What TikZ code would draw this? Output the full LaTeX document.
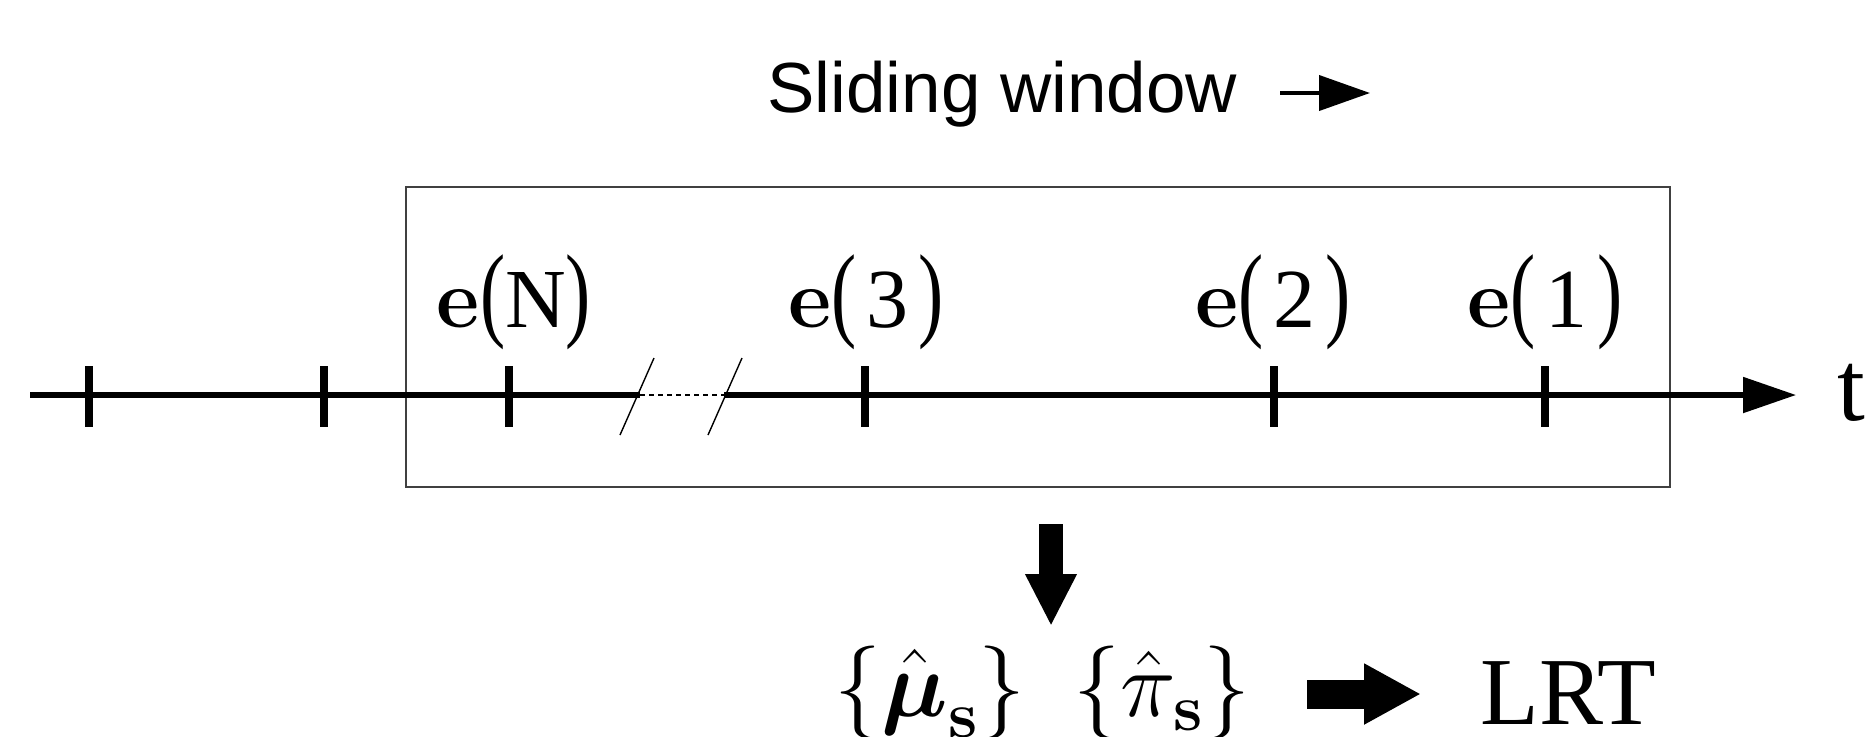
\RequirePackage{fix-cm}
\documentclass[tikz,border=0pt]{standalone}
\usepackage[no-math]{fontspec}
\setmainfont{Liberation Serif}
\newfontfamily\sansf{Liberation Sans}
\usepackage{amsmath}
\usepackage{graphicx}
\usetikzlibrary{arrows.meta}
\newcommand\myLP{\scalebox{0.9}[1.25]{(}}
\newcommand\myRP{\scalebox{0.9}[1.25]{)}}
\newcommand\myDig[1]{\myLP\hspace{0.12em}#1\hspace{0.12em}\myRP}
\tikzset{
  axisline/.style={line width=2.6pt},
  tickline/.style={line width=4pt},
  windowbox/.style={draw=black!75, line width=0.8pt},
  breakline/.style={line width=0.7pt},
  gapline/.style={line width=0.8pt, dash pattern=on 2.5pt off 2pt},
  elabel/.style={anchor=base, inner sep=0pt, font=\fontsize{42pt}{50pt}\selectfont},
  bigtext/.style={inner sep=0pt, font=\fontsize{48pt}{58pt}\selectfont},
  mathtext/.style={anchor=base, inner sep=0pt, font=\fontsize{47pt}{56pt}\selectfont},
  downarrow/.style={line width=12pt, -{Triangle[length=26pt,width=24pt]}},
  rightarrow/.style={line width=14.5pt, -{Triangle[length=28.5pt,width=28.5pt]}},
  smallarrow/.style={line width=2pt, -{Triangle[length=25.5pt,width=17.5pt]}},
}
\begin{document}
\begin{tikzpicture}[x=0.5pt,y=-0.5pt]
\useasboundingbox (0,0) rectangle (1872,736);
% sliding window title
\node[anchor=base west, inner sep=0pt, font=\sansf\fontsize{35.5pt}{42pt}\selectfont] (title) at (767,112) {Sliding window};
\coordinate (sa) at (1280,93);
\coordinate (sb) at (1370,93);
\draw[smallarrow] (sa) -- (sb);
% window
\draw[windowbox] (406,187) rectangle (1670,487);
% axis
\coordinate (a0) at (30,395);
\coordinate (a1) at (640,395);
\coordinate (a2) at (724,395);
\coordinate (a3) at (1796,395);
\draw[axisline] (a0) -- (a1);
\draw[gapline] (a1) -- (a2);
\draw[axisline, -{Triangle[length=26.5pt,width=17.5pt]}] (a2) -- (a3);
\draw[breakline] (620,435) -- (654,358);
\draw[breakline] (708,435) -- (742,358);
\foreach \x in {89,324,509,865,1274,1545}
  \draw[tickline] (\x,366) -- (\x,427);
\node[anchor=base, inner sep=0pt, font=\fontsize{50pt}{60pt}\selectfont] (t) at (1851,420) {t};
% labels
\node[elabel] (eN) at (514,327) {$\mathbf{e}$\myLP N\myRP};
\node[elabel] (e3) at (866,327) {$\mathbf{e}$\myDig{3}};
\node[elabel] (e2) at (1273,327) {$\mathbf{e}$\myDig{2}};
\node[elabel] (e1) at (1545,327) {$\mathbf{e}$\myDig{1}};
% output
\coordinate (dtop) at (1051,524);
\coordinate (dtip) at (1051,626);
\draw[downarrow] (dtop) -- (dtip);
\node[mathtext] (mu) at (930,716) {$\{\hat{\boldsymbol{\mu}}_{\mathbf{s}}\}$};
\node[mathtext] (pi) at (1162,716) {$\{\hat{\pi}_{\mathbf{s}}\}$};
\node[bigtext, anchor=base west] (lrt) at (1480,724) {LRT};
\coordinate (ra) at (1307,694);
\coordinate (rb) at (1421,694);
\draw[rightarrow] (ra) -- (rb);
\end{tikzpicture}
\end{document}
